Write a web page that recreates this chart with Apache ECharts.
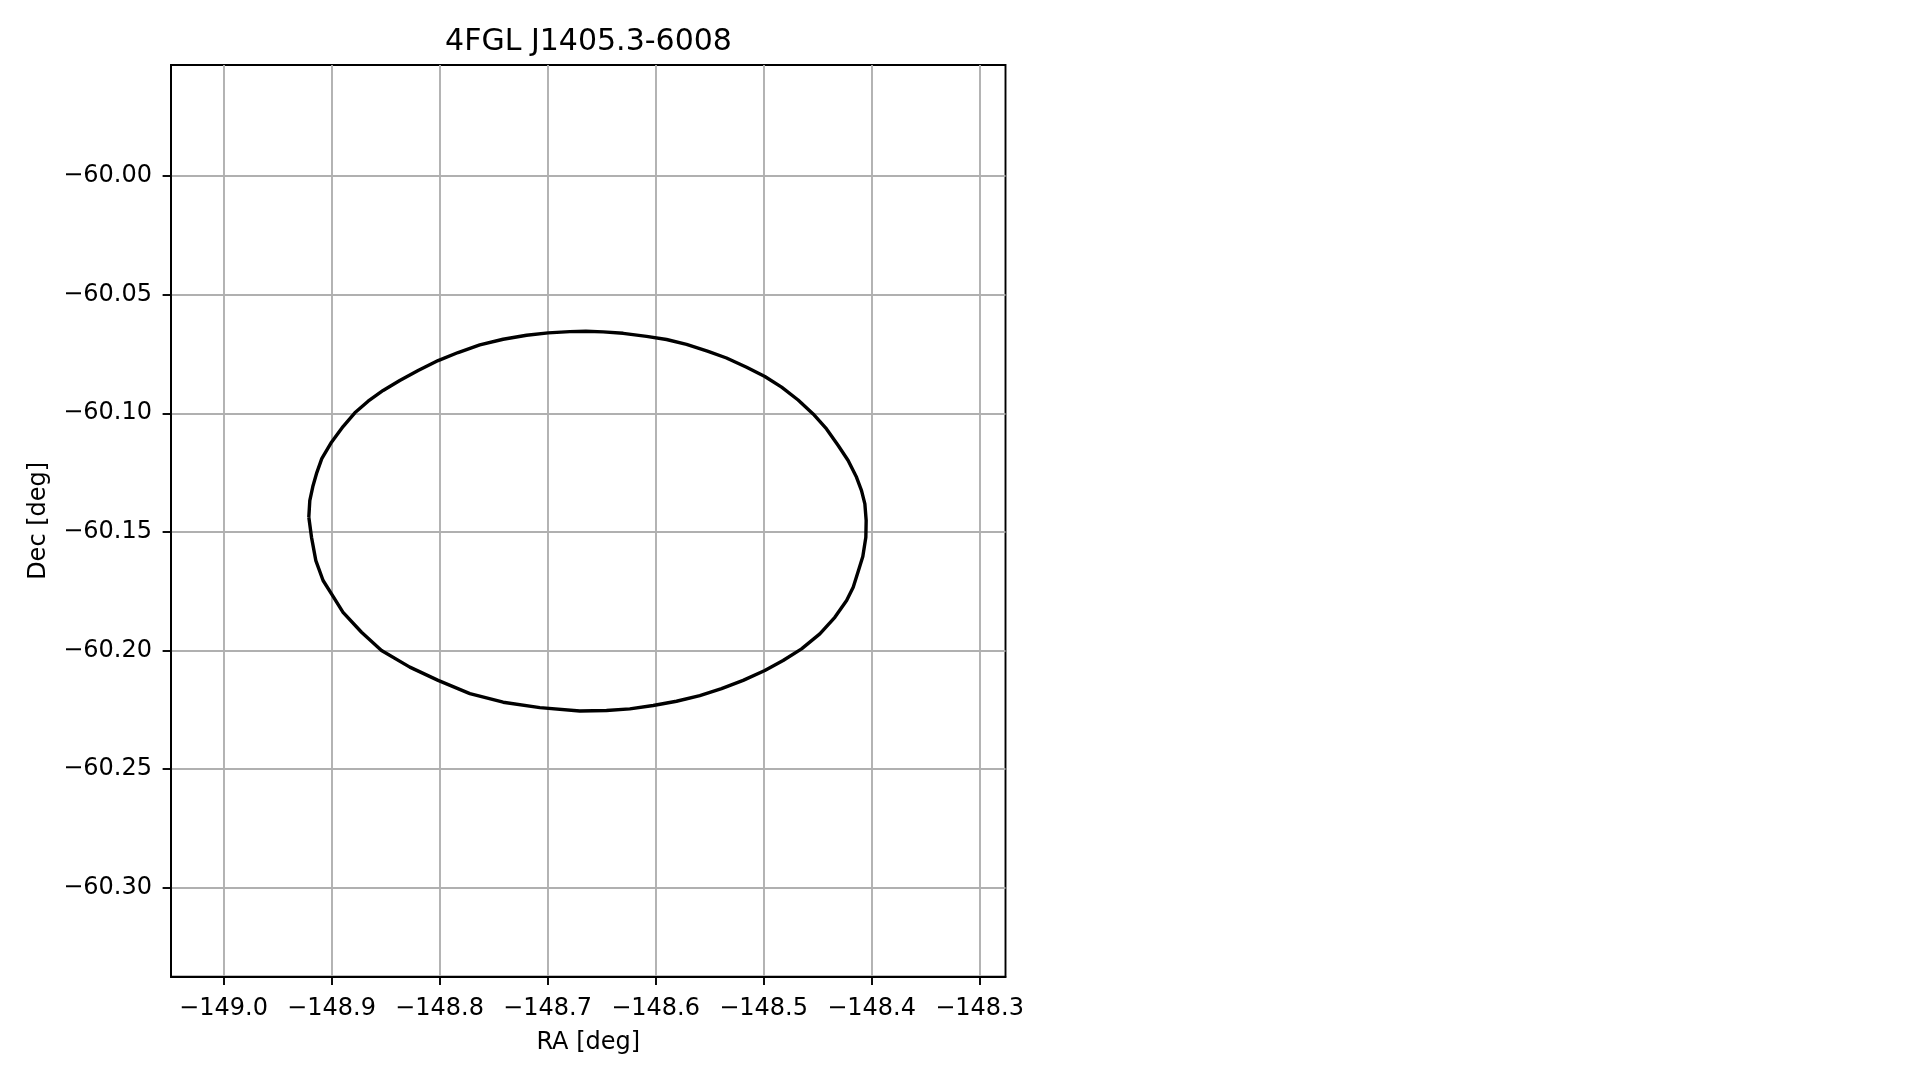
<!DOCTYPE html>
<html>
<head>
<meta charset="utf-8">
<script src="https://cdn.jsdelivr.net/npm/echarts@6/dist/echarts.min.js"></script>
<style>
  html, body { margin: 0; padding: 0; background: #ffffff; }
  #chart { width: 1919px; height: 1080px; }
</style>
</head>
<body>
<div id="chart"></div>
<script>
// ---- data ----
const chartTitle = '4FGL J1405.3-6008';
const xAxisName = 'RA [deg]';
const yAxisName = 'Dec [deg]';

const xTicks = [-149.0, -148.9, -148.8, -148.7, -148.6, -148.5, -148.4, -148.3];
const yTicks = [-60.30, -60.25, -60.20, -60.15, -60.10, -60.05, -60.00];
const xRange = [-149.0486, -148.2760];
const yRange = [-60.3375, -59.9532];

// ellipse outline (RA, Dec)
const raValues = [
  -148.9210, -148.9201, -148.9173, -148.9136, -148.9090, -148.9000, -148.8893, -148.8784,
  -148.8661, -148.8522, -148.8368, -148.8198, -148.8013, -148.7828, -148.7627, -148.7411,
  -148.7194, -148.6994, -148.6794, -148.6645, -148.6485, -148.6300, -148.6083, -148.5898,
  -148.5713, -148.5513, -148.5343, -148.5157, -148.4988, -148.4833, -148.4680, -148.4541,
  -148.4417, -148.4309, -148.4217, -148.4139, -148.4093, -148.4062, -148.4050, -148.4053,
  -148.4081, -148.4127, -148.4170, -148.4231, -148.4340, -148.4479, -148.4648, -148.4819,
  -148.4988, -148.5189, -148.5389, -148.5590, -148.5806, -148.6022, -148.6238, -148.6454,
  -148.6701, -148.7071, -148.7411, -148.7719, -148.8013, -148.8275, -148.8537, -148.8722,
  -148.8893, -148.9000, -148.9078, -148.9145, -148.9185, -148.9210
];
const decValues = [
  -60.1438, -60.1368, -60.1309, -60.1250, -60.1191, -60.1122, -60.1056, -60.0998,
  -60.0949, -60.0904, -60.0862, -60.0820, -60.0778, -60.0744, -60.0712, -60.0688,
  -60.0671, -60.0661, -60.0656, -60.0654, -60.0657, -60.0663, -60.0676, -60.0689,
  -60.0710, -60.0739, -60.0767, -60.0806, -60.0845, -60.0890, -60.0944, -60.1003,
  -60.1066, -60.1136, -60.1199, -60.1270, -60.1326, -60.1382, -60.1452, -60.1523,
  -60.1604, -60.1671, -60.1733, -60.1789, -60.1860, -60.1930, -60.1993, -60.2042,
  -60.2084, -60.2126, -60.2161, -60.2190, -60.2214, -60.2232, -60.2246, -60.2253,
  -60.2255, -60.2241, -60.2218, -60.2182, -60.2126, -60.2070, -60.2000, -60.1923,
  -60.1839, -60.1761, -60.1705, -60.1621, -60.1523, -60.1438
];

// ---- build chart ----
const FONT = 'DejaVu Sans';
const points = raValues.map((r, i) => [r, decValues[i]]);
const minus = s => s.replace('-', '\u2212');

const chart = echarts.init(document.getElementById('chart'), null, { renderer: 'canvas' });
chart.setOption({
  animation: false,
  backgroundColor: '#ffffff',
  title: {
    text: chartTitle,
    left: 588.5,
    textAlign: 'center',
    top: 27,
    padding: 0,
    textStyle: { fontFamily: FONT, fontSize: 30, fontWeight: 'normal', color: '#000000' }
  },
  grid: {
    left: 171, top: 65, right: 913.5, bottom: 103.3,
    show: true, borderColor: '#000000', borderWidth: 1.9, backgroundColor: 'transparent'
  },
  xAxis: {
    type: 'value',
    min: xRange[0], max: xRange[1],
    name: xAxisName, nameLocation: 'middle', nameGap: 54,
    nameTextStyle: { fontFamily: FONT, fontSize: 24, color: '#000000' },
    axisLine: { show: true, onZero: false, lineStyle: { color: '#000000', width: 1.9 } },
    axisTick: { show: true, length: 8.4, customValues: xTicks, lineStyle: { color: '#000000', width: 1.9 } },
    axisLabel: {
      customValues: xTicks, margin: 20,
      fontFamily: FONT, fontSize: 24, color: '#000000',
      formatter: v => minus(v.toFixed(1))
    },
    splitLine: { show: true, lineStyle: { color: '#b0b0b0', width: 1.9 } }
  },
  yAxis: {
    type: 'value',
    min: yRange[0], max: yRange[1],
    name: yAxisName, nameLocation: 'middle', nameGap: 120, nameRotate: 90,
    nameTextStyle: { fontFamily: FONT, fontSize: 24, color: '#000000' },
    axisLine: { show: true, onZero: false, lineStyle: { color: '#000000', width: 1.9 } },
    axisTick: { show: true, length: 8.4, customValues: yTicks, lineStyle: { color: '#000000', width: 1.9 } },
    axisLabel: {
      customValues: yTicks, margin: 19,
      fontFamily: FONT, fontSize: 24, color: '#000000',
      formatter: v => minus(v.toFixed(2))
    },
    splitLine: { show: true, lineStyle: { color: '#b0b0b0', width: 1.9 } }
  },
  series: [{
    type: 'line',
    data: points,
    showSymbol: false,
    smooth: false,
    lineStyle: { color: '#000000', width: 3.4, join: 'round' },
    z: 5
  }]
});
</script>
</body>
</html>
